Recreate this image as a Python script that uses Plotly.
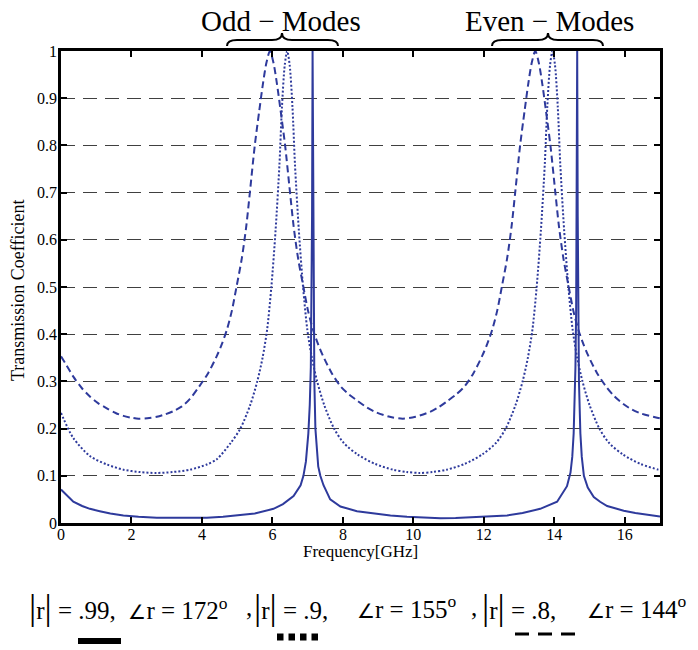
import plotly.graph_objects as go

# ---------------- data ----------------
# |r| = .99 (solid)
freq_solid = [0, 0.15, 0.35, 0.6, 0.82, 1.1, 1.4, 1.77, 2.2, 2.72, 3.2, 3.7, 4.14, 4.6, 5.09, 5.5,
              6.03, 6.3, 6.6, 6.8, 6.88, 6.95, 7.02, 7.06, 7.09, 7.11, 7.125, 7.14, 7.155, 7.17,
              7.19, 7.22, 7.26, 7.3, 7.36, 7.45, 7.64, 7.93, 8.4, 8.87, 9.35, 9.82, 10.3, 10.77,
              11.2, 11.7, 12.2, 12.66, 13.1, 13.6, 14.08, 14.36, 14.46, 14.51, 14.55, 14.6, 14.62,
              14.635, 14.65, 14.665, 14.68, 14.7, 14.74, 14.78, 14.84, 14.95, 15.12, 15.3, 15.5,
              15.75, 15.97, 16.3, 16.6, 16.92, 17]
t_solid = [0.071, 0.06, 0.045, 0.036, 0.03, 0.025, 0.02, 0.016, 0.013, 0.011, 0.0105, 0.0105, 0.011,
           0.013, 0.016, 0.02, 0.03, 0.04, 0.057, 0.08, 0.1, 0.13, 0.19, 0.25, 0.33, 0.45, 0.65, 1.0,
           0.65, 0.45, 0.3, 0.2, 0.15, 0.12, 0.1, 0.08, 0.05, 0.035, 0.025, 0.02, 0.016, 0.013, 0.011,
           0.01, 0.0105, 0.012, 0.014, 0.016, 0.021, 0.03, 0.045, 0.078, 0.107, 0.14, 0.19, 0.33,
           0.45, 0.65, 1.0, 0.65, 0.45, 0.3, 0.19, 0.14, 0.1, 0.075, 0.055, 0.045, 0.036, 0.03,
           0.026, 0.021, 0.018, 0.015, 0.014]

# |r| = .9 (dotted)
freq_dot = [0, 0.35, 0.82, 1.3, 1.77, 2.24, 2.7, 3.17, 3.66, 4.14, 4.42, 4.82, 5.09, 5.37, 5.57,
            5.72, 5.85, 5.97, 6.09, 6.2, 6.27, 6.35, 6.42, 6.49, 6.57, 6.64, 6.75, 6.87, 6.99,
            7.12, 7.27, 7.47, 7.75, 8.02, 8.42, 8.92, 9.42, 9.82, 10.18, 10.55, 10.95, 11.45,
            11.95, 12.35, 12.62, 12.9, 13.1, 13.25, 13.38, 13.5, 13.62, 13.73, 13.8, 13.88, 13.95,
            14.02, 14.1, 14.17, 14.28, 14.4, 14.52, 14.65, 14.8, 15.0, 15.28, 15.55, 15.95, 16.45,
            16.95, 17]
t_dot = [0.233, 0.18, 0.142, 0.124, 0.113, 0.108, 0.106, 0.108, 0.113, 0.124, 0.135, 0.17, 0.2,
         0.25, 0.3, 0.35, 0.41, 0.5, 0.62, 0.76, 0.88, 0.97, 1.0, 0.97, 0.88, 0.76, 0.62, 0.5,
         0.41, 0.35, 0.3, 0.25, 0.2, 0.17, 0.145, 0.125, 0.113, 0.108, 0.106, 0.108, 0.113, 0.125,
         0.145, 0.17, 0.2, 0.25, 0.3, 0.35, 0.41, 0.5, 0.62, 0.76, 0.88, 0.97, 1.0, 0.97, 0.88,
         0.76, 0.62, 0.5, 0.41, 0.35, 0.3, 0.25, 0.2, 0.17, 0.145, 0.125, 0.113, 0.112]

# |r| = .8 (dashed)
freq_dash = [0, 0.15, 0.35, 0.6, 0.82, 1.05, 1.3, 1.55, 1.77, 2.0, 2.2, 2.45, 2.72, 2.95, 3.19,
             3.43, 3.66, 3.93, 4.18, 4.43, 4.57, 4.71, 4.85, 4.98, 5.13, 5.26, 5.36, 5.5, 5.63,
             5.73, 5.83, 5.93, 6.03, 6.13, 6.23, 6.36, 6.5, 6.6, 6.73, 6.88, 7.01, 7.15, 7.29,
             7.43, 7.68, 7.93, 8.18, 8.43, 8.68, 8.93, 9.33, 9.7, 10.06, 10.46, 10.71, 10.96,
             11.21, 11.46, 11.71, 11.96, 12.1, 12.24, 12.38, 12.51, 12.66, 12.79, 12.89, 13.03,
             13.16, 13.26, 13.36, 13.46, 13.56, 13.66, 13.76, 13.89, 14.03, 14.13, 14.26, 14.41,
             14.54, 14.68, 14.82, 14.96, 15.21, 15.46, 15.71, 15.96, 16.21, 16.46, 16.86, 17]
t_dash = [0.353, 0.335, 0.31, 0.285, 0.268, 0.254, 0.243, 0.233, 0.227, 0.223, 0.221, 0.222, 0.225,
          0.23, 0.237, 0.247, 0.263, 0.29, 0.318, 0.355, 0.38, 0.41, 0.45, 0.5, 0.56, 0.63, 0.7,
          0.8, 0.875, 0.93, 0.975, 1.0, 0.975, 0.93, 0.875, 0.8, 0.7, 0.63, 0.56, 0.5, 0.45, 0.41,
          0.38, 0.355, 0.318, 0.29, 0.272, 0.258, 0.245, 0.235, 0.225, 0.221, 0.225, 0.235, 0.245,
          0.258, 0.272, 0.29, 0.318, 0.355, 0.38, 0.41, 0.45, 0.5, 0.56, 0.63, 0.7, 0.8, 0.875,
          0.93, 0.975, 1.0, 0.975, 0.93, 0.875, 0.8, 0.7, 0.63, 0.56, 0.5, 0.45, 0.41, 0.38, 0.355,
          0.318, 0.29, 0.268, 0.252, 0.24, 0.232, 0.224, 0.222]

x_ticks = [0, 2, 4, 6, 8, 10, 12, 14, 16]
y_ticks = [0, 0.1, 0.2, 0.3, 0.4, 0.5, 0.6, 0.7, 0.8, 0.9, 1]
y_tick_text = ["0", "0.1", "0.2", "0.3", "0.4", "0.5", "0.6", "0.7", "0.8", "0.9", "1"]

# ---------------- figure ----------------
# page is 698x650; the html body adds an 8px margin, so the figure is 690x642
PAGE_OFF = 8
W_FIG, H_FIG = 698 - PAGE_OFF, 650 - PAGE_OFF
# plot area in page pixels
P_LEFT, P_RIGHT, P_TOP, P_BOTTOM = 61, 660, 51, 523
PW, PH = P_RIGHT - P_LEFT, P_BOTTOM - P_TOP
ML, MT = P_LEFT - PAGE_OFF, P_TOP - PAGE_OFF
MR, MB = 698 - P_RIGHT, 650 - P_BOTTOM
SERIF = "Liberation Serif, Times New Roman, serif"
BLUE = "#2E3A9C"


def px(x):
    return (x - P_LEFT) / PW


def py(y):
    return (P_BOTTOM - y) / PH


fig = go.Figure()
fig.add_trace(go.Scatter(x=freq_dash, y=t_dash, mode="lines",
                         line=dict(color=BLUE, width=2, dash="7px,4px", shape="spline",
                                   smoothing=0.8)))
fig.add_trace(go.Scatter(x=freq_dot, y=t_dot, mode="lines",
                         line=dict(color=BLUE, width=2, dash="2px,2px", shape="spline",
                                   smoothing=0.8)))
fig.add_trace(go.Scatter(x=freq_solid, y=t_solid, mode="lines",
                         line=dict(color=BLUE, width=2)))

axis_common = dict(showline=True, linewidth=2.5, linecolor="black", mirror="ticks",
                   ticks="inside", ticklen=6, tickwidth=1.5, tickcolor="black",
                   zeroline=False, tickfont=dict(family=SERIF, size=16, color="black"))

fig.update_xaxes(range=[0, 17], tickvals=x_ticks, showgrid=False, ticklabelstandoff=-5,
                 **axis_common)
fig.update_yaxes(range=[0, 1], tickvals=y_ticks, ticktext=y_tick_text, showgrid=True,
                 gridcolor="#404040", gridwidth=1, griddash="14px,8px", ticklabelstandoff=-2,
                 **axis_common)


def note(text, xp, yp, size, **kw):
    d = dict(text=text, x=px(xp), y=py(yp), xref="paper", yref="paper", showarrow=False,
             xanchor="center", yanchor="middle", borderpad=0,
             font=dict(family=SERIF, size=size, color="black"))
    d.update(kw)
    return d


annotations = [
    note("Frequency[GHz]", 360, 551, 17),
    note("Transmission Coefficient", 18, 290, 18, textangle=-90),
    note("Odd − Modes", 281, 21, 29),
    note("Even − Modes", 549, 21, 29),
]

BAR = '<span style="font-size:36px">|</span>'
ANG = '<span style="font-size:20px">∠</span>'
legend_pieces = [
    (28, BAR + "r" + BAR + " = .99,  " + ANG + "r = 172<sup>o</sup>"),
    (245, ","),
    (253, BAR + "r" + BAR + " = .9, "),
    (356, ANG + "r = 155<sup>o</sup>"),
    (470, ","),
    (481, BAR + "r" + BAR + " = .8,"),
    (586, ANG + "r = 144<sup>o</sup>"),
]
for xpix, txt in legend_pieces:
    annotations.append(note(txt, xpix, 607, 25, xanchor="left"))


def brace(x0, x1, xc, yb=46, ym=40, yt=33, r=10):
    pts = [
        f"M {px(x0)},{py(yb)}",
        f"Q {px(x0)},{py(ym)} {px(x0 + r)},{py(ym)}",
        f"L {px(xc - r)},{py(ym)}",
        f"Q {px(xc)},{py(ym)} {px(xc)},{py(yt)}",
        f"Q {px(xc)},{py(ym)} {px(xc + r)},{py(ym)}",
        f"L {px(x1 - r)},{py(ym)}",
        f"Q {px(x1)},{py(ym)} {px(x1)},{py(yb)}",
    ]
    return dict(type="path", xref="paper", yref="paper", path=" ".join(pts),
                line=dict(color="black", width=2))


shapes = [
    brace(227, 338, 282),
    brace(492, 603, 548),
    dict(type="line", xref="paper", yref="paper", x0=px(78), x1=px(121), y0=py(641), y1=py(641),
         line=dict(color="black", width=6)),
    dict(type="line", xref="paper", yref="paper", x0=px(277), x1=px(318), y0=py(637), y1=py(637),
         line=dict(color="black", width=7, dash="6.5px,5px")),
    dict(type="line", xref="paper", yref="paper", x0=px(515), x1=px(575), y0=py(634), y1=py(634),
         line=dict(color="black", width=3, dash="14px,9px")),
]

fig.update_layout(width=W_FIG, height=H_FIG, margin=dict(l=ML, r=MR, t=MT, b=MB),
                  paper_bgcolor="white", plot_bgcolor="white", showlegend=False,
                  annotations=annotations, shapes=shapes)

fig.write_html("out.html")
